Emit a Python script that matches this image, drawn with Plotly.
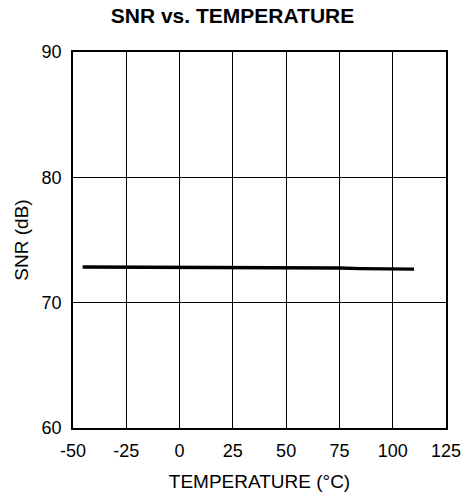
import plotly.graph_objects as go

# SNR measured across the operating temperature range
temperature_c = [-45.5, -20, 0, 10, 25, 45, 50, 75, 85, 100, 110]
snr_db = [72.85, 72.84, 72.83, 72.80, 72.80, 72.80, 72.76, 72.76, 72.72, 72.70, 72.68]

x_ticks = [-50, -25, 0, 25, 50, 75, 100, 125]
y_ticks = [60, 70, 80, 90]

font_family = "Liberation Sans, Arial, sans-serif"

fig = go.Figure()
fig.add_trace(go.Scatter(
    x=temperature_c, y=snr_db, mode="lines",
    line=dict(color="black", width=3.4, shape="linear"),
    showlegend=False, hoverinfo="skip",
))

axis_common = dict(
    showgrid=True, gridcolor="black", gridwidth=1.3,
    showline=True, linecolor="black", linewidth=1.5, mirror=True,
    zeroline=False, ticks="", automargin=False,
    tickfont=dict(family=font_family, size=18, color="black"),
    title_font=dict(family=font_family, size=19, color="black"),
)

fig.update_xaxes(
    range=[-50, 125], tickvals=x_ticks, ticktext=[str(v) for v in x_ticks],
    title_text="TEMPERATURE (°C)", title_standoff=14,
    ticklabelstandoff=6, **axis_common,
)
fig.update_yaxes(
    range=[60, 90], tickvals=y_ticks, ticktext=[str(v) for v in y_ticks],
    title_text="SNR (dB)", title_standoff=8,
    ticklabelstandoff=6, **axis_common,
)

fig.update_layout(
    width=465, height=497,
    margin=dict(l=73, r=19, t=52, b=69, autoexpand=False),
    paper_bgcolor="white", plot_bgcolor="white",
    title=dict(
        text="<b>SNR vs. TEMPERATURE</b>",
        x=0.5, xref="container", xanchor="center",
        y=1 - 16 / 497, yref="container", yanchor="middle",
        font=dict(family=font_family, size=21, color="black"),
    ),
)

fig.write_html("out.html")
